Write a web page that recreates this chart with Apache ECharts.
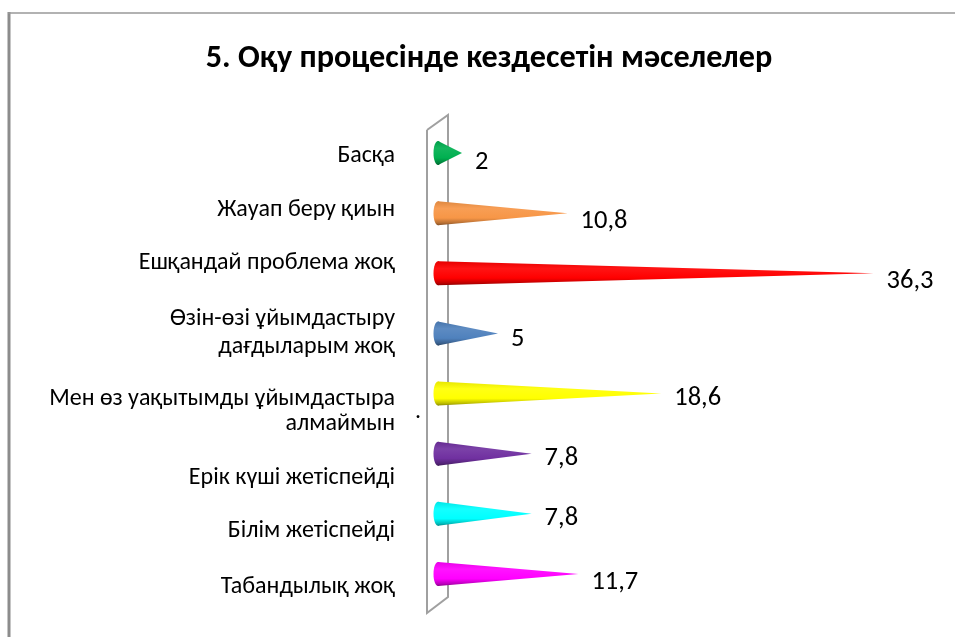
<!DOCTYPE html>
<html>
<head>
<meta charset="utf-8">
<style>html,body{margin:0;padding:0;background:#fff}#c{width:955px;height:637px}</style>
<script src="https://cdn.jsdelivr.net/npm/echarts@6/dist/echarts.min.js"></script>
</head>
<body>
<div id="c"></div>
<script>
const titleText = '5. Оқу процесінде кездесетін мәселелер';
const categories = ['Басқа','Жауап беру қиын','Ешқандай проблема жоқ','Өзін-өзі ұйымдастыру\nдағдыларым жоқ','Мен өз уақытымды ұйымдастыра\nалмаймын','Ерік күші жетіспейді','Білім жетіспейді','Табандылық жоқ'];
const values = [2,10.8,36.3,5,18.6,7.8,7.8,11.7];
const colors = ['#00b050','#f79646','#ff0000','#4f81bd','#ffff00','#7030a0','#00ffff','#ff00ff'];
const labelShift = [3,-3,-10,0,18,24,17,13];
const labelLeading = [27,27,27,28,25,27,27,27];
const valueDrop = [9,8,8,6,5,5,5,8];
const FONT = 'Carlito, Calibri, Lato, "Open Sans", "Noto Sans", sans-serif';
const LABEL_SIZE = 24;

const rich = {};
labelShift.forEach((s,i)=>{
  rich['t'+i] = {fontFamily:FONT,fontSize:LABEL_SIZE,color:'#000',lineHeight:labelLeading[i],align:'right'};
  rich['g'+i] = {fontSize:1,height:Math.max(1,2*Math.abs(s)),lineHeight:Math.max(1,2*Math.abs(s))};
});
function labelFormatter(value,index){
  const s = labelShift[index];
  const lines = value.split('\n').map(l=>`{t${index}|${l}}`);
  if(s>0) lines.unshift(`{g${index}| }`);
  if(s<0) lines.push(`{g${index}| }`);
  return lines.join('\n');
}
function shade(hex, k){
  const n = parseInt(hex.slice(1),16);
  const f = c => Math.round(k<1 ? c*k : c+(255-c)*(k-1));
  return `rgb(${f(n>>16&255)},${f(n>>8&255)},${f(n&255)})`;
}
function coneFill(c){
  return {type:'linear',x:0,y:0,x2:0,y2:1,colorStops:[
    {offset:0,color:shade(c,0.9)},{offset:0.3,color:shade(c,1.08)},
    {offset:0.7,color:c},{offset:0.9,color:shade(c,0.75)},{offset:1,color:shade(c,0.55)}]};
}
function renderCone(params, api){
  const i = params.dataIndex, v = api.value(0);
  const base = api.coord([0,i]), tip = api.coord([v,i]);
  const r = 12, fill = coneFill(colors[i]);
  return {type:'group',children:[
    {type:'polygon',shape:{points:[[base[0],base[1]-r],[tip[0],tip[1]],[base[0],base[1]+r]]},style:{fill}},
    {type:'ellipse',shape:{cx:base[0],cy:base[1],rx:4.5,ry:r},style:{fill}},
    {type:'text',x:tip[0]+13,y:tip[1]+valueDrop[i],style:{text:String(v).replace('.',','),fill:'#000',font:'26.5px '+FONT,align:'left',verticalAlign:'middle'}}
  ]};
}
function renderWall(params){
  const g = params.coordSys;
  const L = g.x-11, R = g.x+10, T = g.y, B = g.y+g.height;
  return {type:'polyline',shape:{points:[[L,T+7],[R,T-8],[R,B-7],[L,B+9],[L,T+7]]},
    style:{fill:'none',stroke:'#a0a0a0',lineWidth:2}};
}
const chart = echarts.init(document.getElementById('c'),null,{renderer:'canvas'});
chart.setOption({
  animation:false,
  backgroundColor:'#fff',
  title:{text:titleText,left:484,top:38,textAlign:'center',textStyle:{fontFamily:FONT,fontWeight:'bold',fontSize:32.2,color:'#000'}},
  grid:{left:438,top:123,width:480,height:481,containLabel:false},
  xAxis:{type:'value',min:0,max:40,show:false},
  yAxis:{type:'category',inverse:true,data:categories,
    axisLine:{show:false},axisTick:{show:false},splitLine:{show:false},
    axisLabel:{interval:0,margin:43,align:'right',formatter:labelFormatter,rich}},
  series:[
    {type:'custom',coordinateSystem:'cartesian2d',z:1,silent:true,data:[[0,0]],renderItem:renderWall},
    {type:'custom',coordinateSystem:'cartesian2d',z:2,silent:true,encode:{x:0},data:values.map(v=>[v]),renderItem:renderCone}
  ],
  graphic:[
    {type:'line',z:0,shape:{x1:9,y1:12,x2:9,y2:637},style:{stroke:'#8c8c8c',lineWidth:3}},
    {type:'line',z:0,shape:{x1:8,y1:13,x2:955,y2:13},style:{stroke:'#999',lineWidth:1.5}},
    {type:'text',x:415,y:400,style:{text:'.',font:'24px '+FONT,fill:'#000'}}
  ]
});
</script>
</body>
</html>
